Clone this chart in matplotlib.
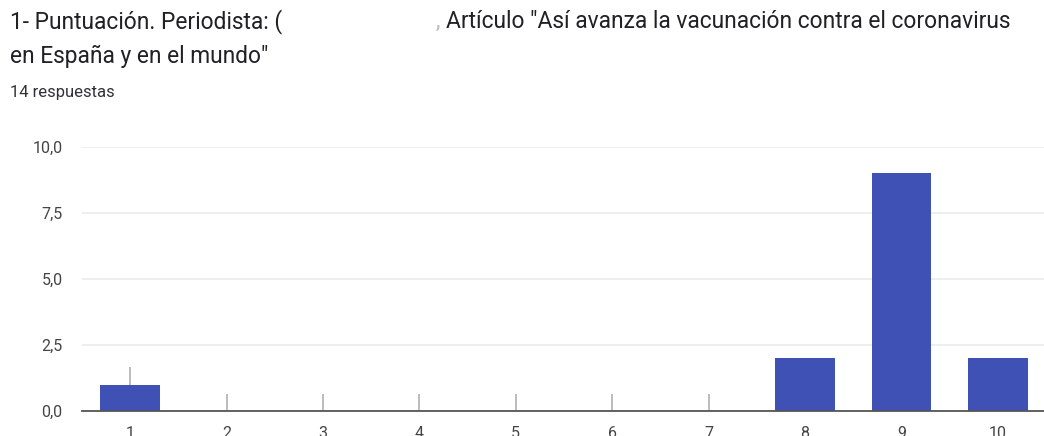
import numpy as np
import matplotlib.pyplot as plt

plt.rcParams['font.family'] = ['Roboto', 'DejaVu Sans']

# Puntuaciones 1..10 y número de respuestas
puntuaciones = [1, 2, 3, 4, 5, 6, 7, 8, 9, 10]
respuestas = [1, 0, 0, 0, 0, 0, 0, 2, 9, 2]
yticks = [0, 2.5, 5, 7.5, 10]
ytick_labels = ["0,0", "2,5", "5,0", "7,5", "10,0"]
# small grey marks drawn above the first categories in the screenshot
marca_cats = [1, 2, 3, 4, 5, 6, 7]
marca_len = 0.65

BAR_COLOR = "#3f51b5"
W, H = 1044, 436

fig = plt.figure(figsize=(W / 100, H / 100), dpi=100)
ax = fig.add_axes([82 / W, 1 - 411 / H, (1046 - 82) / W, (411 - 147) / H])

ax.bar(puntuaciones, respuestas, width=0.62, color=BAR_COLOR, zorder=3)
base = [respuestas[c - 1] for c in marca_cats]
ax.vlines(marca_cats, base, [b + marca_len for b in base], color="#b0b0b0", lw=1.2, zorder=2)

ax.set_xlim(0.5, 10.5)
ax.set_ylim(0, 10)
ax.set_xticks(puntuaciones)
ax.set_xticklabels([str(p) for p in puntuaciones])
ax.set_yticks(yticks)
ax.set_yticklabels(ytick_labels)
ax.tick_params(axis='both', length=0, labelsize=11.5, colors="#444444")
ax.tick_params(axis='x', pad=11)
ax.tick_params(axis='y', pad=14)
ax.grid(axis='y', color="#ebebeb", lw=1.2, zorder=0)
for s in ['top', 'right', 'left']:
    ax.spines[s].set_visible(False)
ax.spines['bottom'].set_color("#555555")
ax.spines['bottom'].set_linewidth(1.3)
ax.spines['bottom'].set_zorder(4)

# title (the journalist's name is blanked out in the original)
tc = "#202124"
fs = 16.4
fig.text(10 / W, 1 - 28 / H, "1- Puntuación. Periodista: (", fontsize=fs, color=tc, va='baseline')
fig.text(436 / W, 1 - 28 / H, ",", fontsize=fs, color="#bbbbbb", va='baseline')
fig.text(446 / W, 1 - 28 / H, "Artículo \"Así avanza la vacunación contra el coronavirus",
         fontsize=fs, color=tc, va='baseline')
fig.text(10 / W, 1 - 63 / H, "en España y en el mundo\"", fontsize=fs, color=tc, va='baseline')
fig.text(10 / W, 1 - 97 / H, "14 respuestas", fontsize=12, color="#303134", va='baseline')

fig.savefig("out.png", dpi=100)
